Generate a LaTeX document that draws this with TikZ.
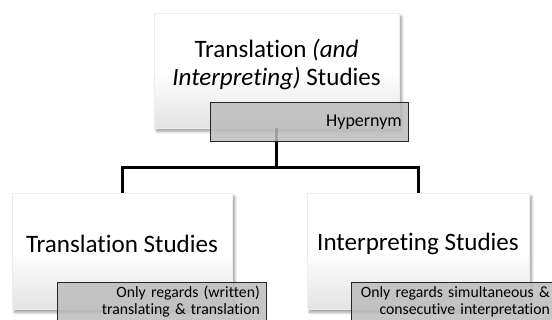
\documentclass[tikz,border=0pt]{standalone}
\usepackage{fontspec}
\setmainfont{Carlito}[Ligatures=NoCommon]
\usetikzlibrary{shadows.blur}
\definecolor{notegray}{RGB}{188,188,188}
\def\shd{black!11}

\begin{document}
\begin{tikzpicture}[x=0.75pt,y=-0.75pt,line width=2.25pt,
  main node/.style={rectangle,draw=black!7,line width=0.4pt,top color=white,bottom color=\shd,middle color=white,
    blur shadow={shadow xshift=2pt,shadow yshift=-2.5pt,shadow blur steps=8,shadow opacity=40},inner sep=0pt},
  main text/.style={font=\fontsize{18.8}{20.5}\selectfont},
  note node/.style={rectangle,draw=black!85,line width=0.75pt,fill=notegray,fill opacity=0.85,text opacity=1,
    align=right,font=\fontsize{11.8}{12.8}\selectfont,inner xsep=5pt,inner ysep=0pt,anchor=north west,minimum height=29.25pt}]
  \clip (0,0) rectangle (552,320);

  \node[main node,minimum width=183.75pt,minimum height=86.25pt,
    label={[main text,align=center,yshift=4.5pt]center:Translation \textit{(and}\\\textit{Interpreting)} Studies}] (1) at (276.5,70.5) {};
  \node[main node,minimum width=165pt,minimum height=87pt,
    label={[main text,yshift=5pt]center:Translation Studies}] (2) at (122,251) {};
  \node[main node,minimum width=166.5pt,minimum height=87pt,
    label={[main text,yshift=5pt]center:Interpreting Studies}] (3) at (418,251) {};

  \coordinate (j) at (276.5,168);
  \draw (1.south) -- (j) -| (2.north);
  \draw (j) -| (3.north);

  \node[note node,minimum width=148.5pt,text width=138.5pt,font=\fontsize{13.5}{14}\selectfont] (4) at (210,102) {Hypernym};
  \node[note node,minimum width=156.75pt,text width=146.75pt] (5) at (57,282) {Only regards (written)\\translating \& translation};
  \node[note node,minimum width=153.75pt,text width=143.75pt] (6) at (351,282) {Only regards simultaneous \&\\consecutive interpretation};

\end{tikzpicture}
\end{document}
